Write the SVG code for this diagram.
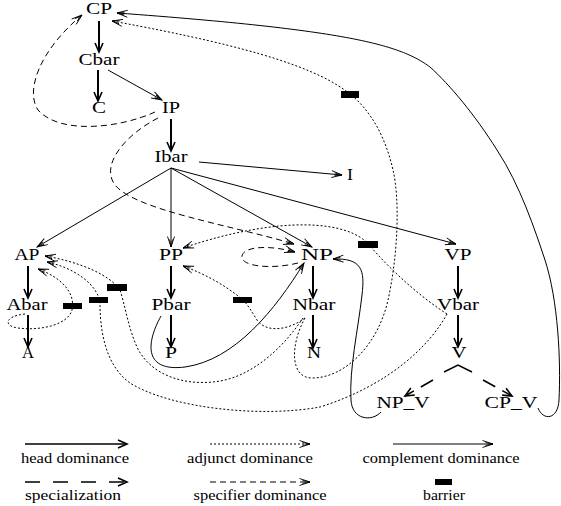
<svg xmlns="http://www.w3.org/2000/svg" width="561" height="506" viewBox="0 0 561 506">
<style>
text{font-family:"Liberation Serif","Times New Roman",serif;fill:#000}
.n{font-size:17px;text-anchor:middle}
.l{font-size:14px;text-anchor:middle}
.head{stroke:#000;stroke-width:2;fill:none;marker-end:url(#ah)}
.comp{stroke:#000;stroke-width:1;fill:none;marker-end:url(#ao)}
.adj{stroke:#000;stroke-width:1;fill:none;stroke-dasharray:2 2;marker-end:url(#ao)}
.spec{stroke:#000;stroke-width:1;fill:none;stroke-dasharray:6 4;marker-end:url(#ao)}
.sz{stroke:#000;stroke-width:1.6;fill:none;stroke-dasharray:15 13;marker-end:url(#ah)}
.bar{fill:#000}
</style>
<defs>
<marker id="ah" markerUnits="userSpaceOnUse" markerWidth="12" markerHeight="10" refX="10" refY="5" orient="auto"><path d="M1,1 L10,5 L1,9" fill="none" stroke="#000" stroke-width="1.6"/></marker>
<marker id="ao" markerUnits="userSpaceOnUse" markerWidth="13" markerHeight="9" refX="11.5" refY="4.5" orient="auto"><path d="M1,1 L11.5,4.5 L1,8 M4,3 L11.5,4.5 L4,6" fill="none" stroke="#000" stroke-width="0.9"/></marker>
</defs>

<g id="connectors">
<!-- head dominance -->
<path class="head" d="M99,21 L99,52"/>
<path class="head" d="M98,70 L98,101"/>
<path class="head" d="M171,119 L171,151"/>
<path class="head" d="M28,266 L28,298"/>
<path class="head" d="M28,315 L28,347"/>
<path class="head" d="M171,266 L171,298"/>
<path class="head" d="M171,315 L171,347"/>
<path class="head" d="M313,266 L313,298"/>
<path class="head" d="M313,315 L313,348"/>
<path class="head" d="M458,266 L458,298"/>
<path class="head" d="M458,315 L458,347"/>
<!-- complement dominance -->
<path class="comp" d="M108,70 L162,100"/>
<path class="comp" d="M199,162 L342,175"/>
<path class="comp" d="M171,168 L37,247"/>
<path class="comp" d="M171,168 L171,247"/>
<path class="comp" d="M171,168 L312,247"/>
<path class="comp" d="M171,168 L456,244"/>
<path class="comp" d="M161,316 C145,345 145,372 185,367 C235,360 275,310 304,263"/>
<path class="comp" d="M381,412 C372,422 352,420 351,400 C349,370 358,330 362,295 C365,270 362,258 333,259"/>
<path class="comp" d="M538,408 C543,421 558,420 559,400 C561,360 558,300 545,260 C535,230 520,185 497,150 C475,115 450,85 430,67 C400,45 350,30 117,13"/>
<!-- specifier dominance -->
<path class="spec" d="M155,112 C120,128 60,135 38,110 C25,90 40,50 82,15"/>
<path class="spec" d="M158,118 C125,135 100,165 115,185 C135,210 230,225 294,244"/>
<path class="spec" d="M298,263 C270,270 240,266 242,256 C244,246 270,245 295,252"/>
<!-- adjunct dominance -->
<path class="adj" d="M305,318 C290,345 290,378 312,378 C345,378 378,345 388,300 C398,255 400,200 393,170 C385,135 370,110 350,94 C320,70 260,48 112,21"/>
<path class="adj" d="M305,318 C292,328 268,335 257,320 C252,312 248,305 243,300 C225,285 205,274 183,266"/>
<path class="adj" d="M303,318 C285,345 255,375 220,381 C185,387 150,375 137,347 C128,327 125,305 120,290 C110,275 80,262 45,256"/>
<path class="adj" d="M25,314 C5,316 3,326 18,328 C40,331 68,325 72,310 C76,292 60,277 38,269"/>
<path class="adj" d="M447,314 C430,345 390,385 320,407 C260,418 170,408 130,383 C105,365 100,330 100,303 C98,285 75,268 47,262"/>
<path class="adj" d="M447,314 C425,300 395,275 370,246 C350,220 280,215 183,248"/>
<!-- specialization -->
<polyline points="444,372 458,365 472,372" fill="none" stroke="#000" stroke-width="1.5"/>
<path class="sz" d="M433,380 L405,396" style="stroke-dasharray:14 8"/>
<path class="sz" d="M483,380 L512,396" style="stroke-dasharray:14 8"/>
</g>

<g id="barriers">
<rect class="bar" x="341" y="91" width="18" height="7"/>
<rect class="bar" x="358" y="241" width="20" height="7"/>
<rect class="bar" x="233" y="297" width="19" height="6"/>
<rect class="bar" x="63" y="303" width="19" height="6"/>
<rect class="bar" x="89" y="297" width="19" height="6"/>
<rect class="bar" x="107" y="284" width="20" height="7"/>
</g>

<g id="CP"><text class="n" x="99" y="14" textLength="26" lengthAdjust="spacingAndGlyphs">CP</text></g>
<g id="Cbar"><text class="n" x="99" y="65" textLength="41" lengthAdjust="spacingAndGlyphs">Cbar</text></g>
<g id="C"><text class="n" x="99" y="113" textLength="14" lengthAdjust="spacingAndGlyphs">C</text></g>
<g id="IP"><text class="n" x="171" y="113" textLength="18" lengthAdjust="spacingAndGlyphs">IP</text></g>
<g id="Ibar"><text class="n" x="171" y="162" textLength="33" lengthAdjust="spacingAndGlyphs">Ibar</text></g>
<g id="I"><text class="n" x="350" y="180" textLength="6" lengthAdjust="spacingAndGlyphs">I</text></g>
<g id="AP"><text class="n" x="27" y="260" textLength="25" lengthAdjust="spacingAndGlyphs">AP</text></g>
<g id="Abar"><text class="n" x="27" y="310" textLength="41" lengthAdjust="spacingAndGlyphs">Abar</text></g>
<g id="A"><text class="n" x="28" y="358" textLength="12" lengthAdjust="spacingAndGlyphs">A</text></g>
<g id="PP"><text class="n" x="171" y="260" textLength="24" lengthAdjust="spacingAndGlyphs">PP</text></g>
<g id="Pbar"><text class="n" x="171" y="310" textLength="39" lengthAdjust="spacingAndGlyphs">Pbar</text></g>
<g id="P"><text class="n" x="171" y="358" textLength="12" lengthAdjust="spacingAndGlyphs">P</text></g>
<g id="NP"><text class="n" x="317" y="260" textLength="32" lengthAdjust="spacingAndGlyphs">NP</text></g>
<g id="Nbar"><text class="n" x="314" y="310" textLength="43" lengthAdjust="spacingAndGlyphs">Nbar</text></g>
<g id="N"><text class="n" x="314" y="358" textLength="14" lengthAdjust="spacingAndGlyphs">N</text></g>
<g id="VP"><text class="n" x="458" y="260" textLength="27" lengthAdjust="spacingAndGlyphs">VP</text></g>
<g id="Vbar"><text class="n" x="458" y="310" textLength="42" lengthAdjust="spacingAndGlyphs">Vbar</text></g>
<g id="V"><text class="n" x="459" y="358" textLength="15" lengthAdjust="spacingAndGlyphs">V</text></g>
<g id="NP_V"><text class="n" x="403" y="408" textLength="53" lengthAdjust="spacingAndGlyphs">NP_V</text></g>
<g id="CP_V"><text class="n" x="511" y="408" textLength="53" lengthAdjust="spacingAndGlyphs">CP_V</text></g>

<g id="legend">
<path class="head" d="M25,444 L127,444" style="stroke-width:1.6"/>
<path class="adj" d="M210,444 L310,444"/>
<path class="comp" d="M393,444 L493,444"/>
<path class="sz" d="M25,482 L127,482"/>
<path class="spec" d="M210,482 L310,482"/>
<rect class="bar" x="435" y="479" width="17" height="6"/>
<text class="l" x="75" y="463" textLength="108" lengthAdjust="spacingAndGlyphs">head dominance</text>
<text class="l" x="250" y="463" textLength="126" lengthAdjust="spacingAndGlyphs">adjunct dominance</text>
<text class="l" x="441" y="463" textLength="157" lengthAdjust="spacingAndGlyphs">complement dominance</text>
<text class="l" x="73" y="500" textLength="96" lengthAdjust="spacingAndGlyphs">specialization</text>
<text class="l" x="260" y="500" textLength="133" lengthAdjust="spacingAndGlyphs">specifier dominance</text>
<text class="l" x="444" y="500" textLength="42" lengthAdjust="spacingAndGlyphs">barrier</text>
</g>
</svg>
